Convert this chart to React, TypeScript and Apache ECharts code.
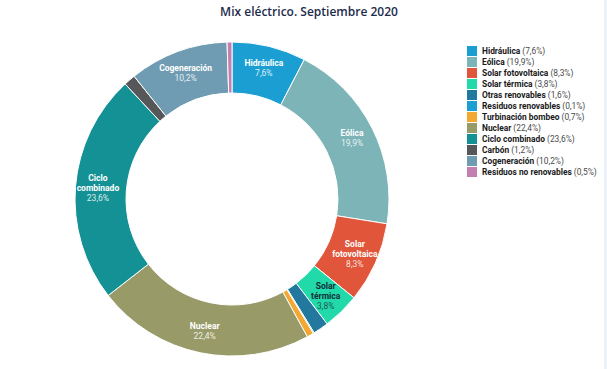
import React, { useEffect, useRef } from "react";
import * as echarts from "echarts";

const names = [
  "Hidráulica",
  "Eólica",
  "Solar fotovoltaica",
  "Solar térmica",
  "Otras renovables",
  "Residuos renovables",
  "Turbinación bombeo",
  "Nuclear",
  "Ciclo combinado",
  "Carbón",
  "Cogeneración",
  "Residuos no renovables",
];
const sliceLabels = [
  "Hidráulica",
  "Eólica",
  "Solar\nfotovoltaica",
  "Solar\ntérmica",
  "",
  "",
  "",
  "Nuclear",
  "Ciclo\ncombinado",
  "",
  "Cogeneración",
  "",
];
const values = [7.6, 19.9, 8.3, 3.8, 1.6, 0.1, 0.7, 22.4, 23.6, 1.2, 10.2, 0.5];
const colors = [
  "#1b9fd3",
  "#7cb4b7",
  "#e1553a",
  "#22d9a9",
  "#23789e",
  "#1b9fd3",
  "#f2a832",
  "#989b68",
  "#149195",
  "#555758",
  "#6f9cb3",
  "#c47fb1",
];

const fmt = (v: number) => v.toFixed(1).replace(".", ",") + "%";

export default function App() {
  const ref = useRef<HTMLDivElement>(null);
  useEffect(() => {
    if (!ref.current) return;
    const chart = echarts.init(ref.current, null, { renderer: "svg" });
    const font = "Roboto, 'Noto Sans', sans-serif";
    chart.setOption({
      animation: false,
      backgroundColor: "#ffffff",
      title: {
        text: "Mix eléctrico. Septiembre 2020",
        left: 304,
        textAlign: "center",
        top: 0,
        textStyle: {
          fontFamily: "'Open Sans', sans-serif",
          fontWeight: 600,
          fontSize: 12,
          color: "#1d2c4c",
        },
      },
      graphic: [
        {
          type: "rect",
          shape: { x: 604, y: 0, width: 3, height: 369 },
          style: { fill: "#edf2f9" },
          silent: true,
        },
      ],
      legend: {
        orient: "vertical",
        left: 462,
        top: 41,
        itemWidth: 10,
        itemHeight: 10,
        itemGap: 1,
        icon: "rect",
        itemStyle: { borderWidth: 0 },
        data: names,
        formatter: (name: string) => {
          const i = names.indexOf(name);
          return "{b|" + name + "} {p|(" + fmt(values[i]) + ")}";
        },
        textStyle: {
          fontFamily: font,
          fontSize: 8.4,
          lineHeight: 10,
          padding: 0,
          rich: {
            b: { fontFamily: font, fontSize: 8.4, fontWeight: "bold", color: "#1a1a1a", lineHeight: 10 },
            p: { fontFamily: font, fontSize: 8.4, color: "#4a4a4a", lineHeight: 10 },
          },
        },
      },
      series: [
        {
          type: "pie",
          center: [232, 199],
          radius: [106, 157],
          startAngle: 90,
          clockwise: true,
          avoidLabelOverlap: false,
          itemStyle: { borderColor: "#ffffff", borderWidth: 1 },
          label: {
            show: true,
            position: "inside",
            fontFamily: font,
            formatter: (p: any) => {
              const l = sliceLabels[p.dataIndex];
              if (!l) return "";
              const lines = l.split("\n").map((s) => "{n|" + s + "}").join("\n");
              return lines + "\n{v|" + fmt(values[p.dataIndex]) + "}";
            },
            rich: {
              n: { fontFamily: font, fontSize: 8.5, fontWeight: "bold", color: "#ffffff", lineHeight: 10 },
              v: { fontFamily: font, fontSize: 8.5, color: "rgba(255,255,255,0.85)", lineHeight: 10 },
            },
          },
          labelLine: { show: false },
          data: names.map((n, i) => {
            const d: any = { name: n, value: values[i], itemStyle: { color: colors[i] } };
            if (n === "Solar térmica") {
              d.label = {
                rich: {
                  n: { fontFamily: font, fontSize: 8.5, fontWeight: "bold", color: "#10303a", lineHeight: 10 },
                  v: { fontFamily: font, fontSize: 8.5, color: "#1d5a5a", lineHeight: 10 },
                },
              };
            }
            return d;
          }),
        },
      ],
    });
    return () => chart.dispose();
  }, []);
  return (
    <div
      ref={ref}
      style={{ position: "absolute", left: 0, top: 0, width: 607, height: 369 }}
    />
  );
}
